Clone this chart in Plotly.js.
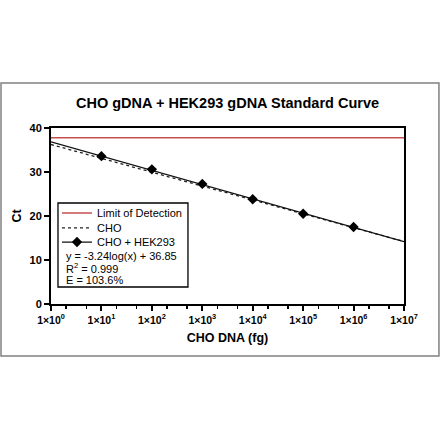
<!DOCTYPE html>
<html>
<head>
<meta charset="utf-8">
<script src="https://cdn.plot.ly/plotly-3.0.1.min.js"></script>
<style>html,body{margin:0;padding:0;background:#fff;}</style>
</head>
<body>
<div id="chart" style="width:440px;height:440px;"></div>
<script>
// Data
const dnaAmounts = [10, 100, 1000, 10000, 100000, 1000000];
const ctChoHek = [33.6, 30.6, 27.3, 23.8, 20.5, 17.5];
const fitX = [1, 10000000];
const fitY = [36.85, 14.17];
const choX = [1, 10000000];
const choY = [36.25, 14.2];
const lodX = [1, 10000000];
const lodY = [37.8, 37.8];
const xTickVals = [1, 10, 100, 1000, 10000, 100000, 1000000, 10000000];
const xTickText = ['1×10<sup>0</sup>', '1×10<sup>1</sup>', '1×10<sup>2</sup>', '1×10<sup>3</sup>',
                   '1×10<sup>4</sup>', '1×10<sup>5</sup>', '1×10<sup>6</sup>', '1×10<sup>7</sup>'];
const yTickVals = [0, 10, 20, 30, 40];
const equationLines = ['y = -3.24log(x) + 36.85', 'R<sup>2</sup> = 0.999', 'E = 103.6%'];

const FONT = 'Liberation Sans, Arial, sans-serif';
const lodColor = '#c4504e';

const traces = [
  {x: lodX, y: lodY, mode: 'lines', name: 'Limit of Detection',
   line: {color: lodColor, width: 1.5}, legend: 'legend', hoverinfo: 'skip'},
  {x: choX, y: choY, mode: 'lines', name: 'CHO',
   line: {color: '#222', width: 1.3, dash: 'dot'}, legend: 'legend2', hoverinfo: 'skip'},
  {x: fitX, y: fitY, mode: 'lines', name: 'fit', showlegend: false,
   line: {color: '#111', width: 1.2}, hoverinfo: 'skip'},
  {x: dnaAmounts, y: ctChoHek, mode: 'markers', name: 'CHO + HEK293 points', showlegend: false,
   marker: {symbol: 'diamond', size: 8, color: '#000'}},
  {x: [null], y: [null], mode: 'lines+markers', name: 'CHO + HEK293', legend: 'legend3',
   line: {color: '#111', width: 1.2}, marker: {symbol: 'diamond', size: 8, color: '#000'}}
];

const legendBase = (yPos) => ({
  x: 0.017, xanchor: 'left', y: yPos, yanchor: 'middle',
  bgcolor: 'rgba(0,0,0,0)', borderwidth: 0,
  font: {family: FONT, size: 11, color: '#000'}, itemwidth: 30
});

const eqY = [0.273, 0.205, 0.139];
const annotations = equationLines.map((t, i) => ({
  text: t, xref: 'paper', yref: 'paper', x: 0.036, y: eqY[i],
  xanchor: 'left', yanchor: 'middle', showarrow: false,
  font: {family: FONT, size: 11, color: '#000'}
}));

const layout = {
  width: 440, height: 440,
  margin: {l: 51, r: 36, t: 128, b: 136},
  paper_bgcolor: '#fff', plot_bgcolor: '#fff',
  title: {text: 'CHO gDNA + HEK293 gDNA Standard Curve', x: 0.5, xref: 'paper',
          y: 1 - 103 / 440, yanchor: 'middle',
          font: {family: FONT, size: 14.5, weight: 'bold', color: '#000'}},
  xaxis: {type: 'log', range: [0, 7], tickvals: xTickVals, ticktext: xTickText,
          ticks: 'outside', ticklen: 5, tickwidth: 2, tickcolor: '#000',
          showline: true, linewidth: 2, linecolor: '#000', mirror: true,
          showgrid: false, zeroline: false,
          minor: {ticks: 'outside', ticklen: 3, tickwidth: 1.5, tickcolor: '#000', showgrid: false},
          tickfont: {family: FONT, size: 10.5, weight: 'bold', color: '#000'},
          title: {text: 'CHO DNA (fg)', standoff: 9,
                  font: {family: FONT, size: 12.5, weight: 'bold', color: '#000'}}},
  yaxis: {range: [0, 40], tickvals: yTickVals,
          ticks: 'outside', ticklen: 5, tickwidth: 2, tickcolor: '#000',
          showline: true, linewidth: 2, linecolor: '#000', mirror: true,
          showgrid: false, zeroline: false,
          tickfont: {family: FONT, size: 11, weight: 'bold', color: '#000'},
          title: {text: 'Ct', standoff: 5,
                  font: {family: FONT, size: 12.5, weight: 'bold', color: '#000'}}},
  legend: legendBase(0.517),
  legend2: legendBase(0.432),
  legend3: legendBase(0.352),
  annotations: annotations,
  shapes: [
    {type: 'rect', xref: 'paper', yref: 'paper', x0: 0.0198, x1: 0.388, y0: 0.0966, y1: 0.574,
     line: {color: '#000', width: 1.3}, fillcolor: 'rgba(0,0,0,0)', layer: 'above'},
    {type: 'rect', xref: 'paper', yref: 'paper', x0: -0.1416, x1: 1.099, y0: -0.2955, y1: 1.2557,
     line: {color: '#808080', width: 1.5}, fillcolor: 'rgba(0,0,0,0)', layer: 'below'}
  ],
  showlegend: true
};

Plotly.newPlot('chart', traces, layout, {staticPlot: true, displayModeBar: false});
</script>
</body>
</html>
